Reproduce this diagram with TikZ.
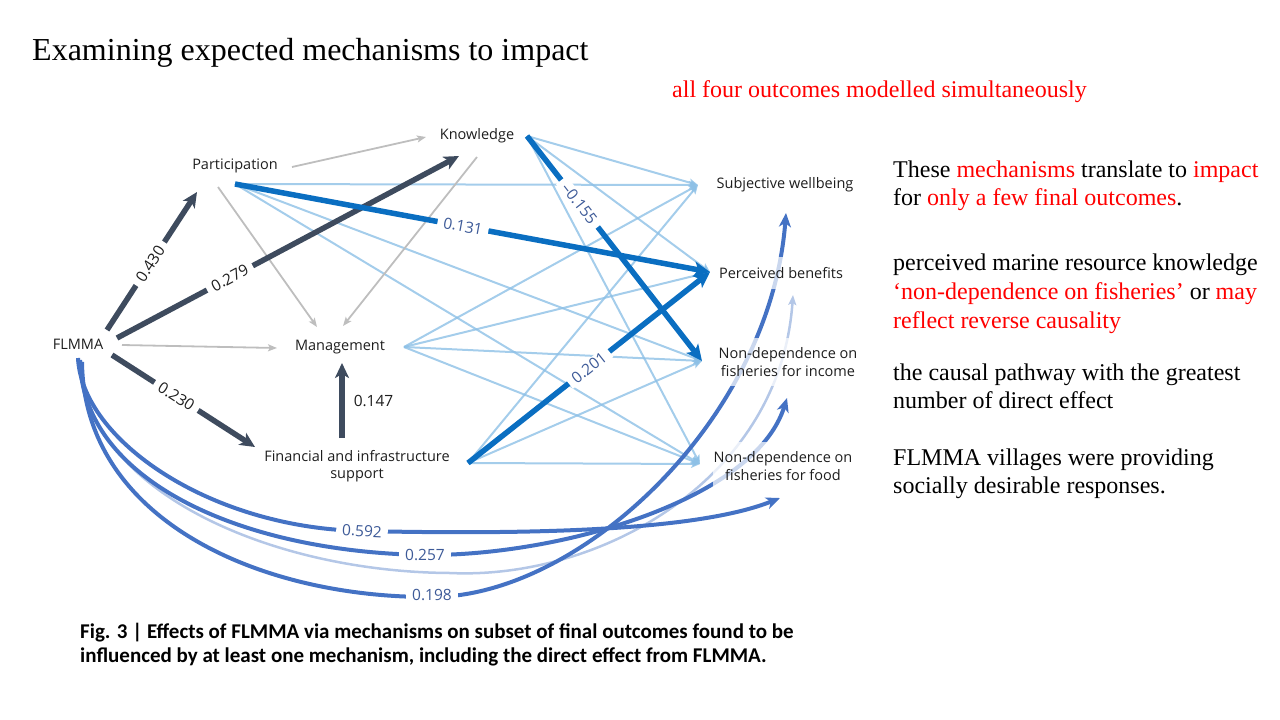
\documentclass[tikz,border=0pt]{standalone}
\usepackage{fontspec}
\setmainfont{Liberation Serif}
\newfontfamily\dfont{Open Sans}
\newfontfamily\capfont{Carlito}
\usetikzlibrary{arrows.meta,calc}
\pgfdeclarelayer{bg}
\pgfsetlayers{bg,main}
\definecolor{slate}{HTML}{3E4B5E}
\definecolor{greyln}{HTML}{BEBEBE}
\definecolor{lblue}{HTML}{8DC0E6}
\definecolor{tblue}{HTML}{0A6EC1}
\definecolor{cblue}{HTML}{4472C4}
\definecolor{fblue}{HTML}{B4C7E7}
\definecolor{lbltxt}{HTML}{3D5A98}
\definecolor{txt}{HTML}{1E1E1E}
\definecolor{redtxt}{HTML}{FF0000}
\newcommand\redtx[1]{\textcolor{redtxt}{#1}}
\begin{document}
\begin{tikzpicture}[x=1pt,y=-1pt,
 lab/.style={font=\dfont\fontsize{14.5}{17.5}\selectfont, text=txt, inner sep=1pt, align=center},
 outc/.style={lab, fill=white, fill opacity=0.72, text opacity=1, inner xsep=1pt, inner ysep=10pt},
 dk/.style={draw=slate, line width=5.5pt, -{Stealth[length=15pt,width=14pt,inset=4pt]}},
 gr/.style={draw=greyln, line width=1.8pt, -{Stealth[length=9pt,width=7pt,inset=2pt]}},
 lb/.style={draw=lblue, draw opacity=0.8, line width=2pt, -{Stealth[length=9pt,width=8pt,inset=2pt]}},
 tb/.style={draw=tblue, line width=5.5pt, -{Stealth[length=16pt,width=15pt,inset=4pt]}},
 cv/.style={draw=cblue, line width=4pt, -{Stealth[length=14pt,width=12pt,inset=4pt]}},
 cvf/.style={draw=fblue, line width=2.5pt, -{Stealth[length=10pt,width=8pt,inset=2pt]}},
 num/.style={font=\dfont\fontsize{15.5}{18}\selectfont, fill=white, fill opacity=1, draw=none, inner xsep=6pt, inner ysep=1pt, text=txt},
 bnum/.style={num, text=lbltxt},
 rt/.style={anchor=base west, inner sep=0pt, font=\fontsize{24}{28}\selectfont},
 captxt/.style={anchor=base west, inner sep=0pt, font=\capfont\bfseries\fontsize{21}{24}\selectfont},
]
\useasboundingbox (0,0) rectangle (1280,720);

% ---------- texts ----------
\node[anchor=base west, inner sep=0pt, font=\fontsize{32}{36}\selectfont] (title) at (32,60) {Examining expected mechanisms to impact};
\node[anchor=base west, inner sep=0pt, font=\fontsize{24}{28}\selectfont, text=redtxt] (sub) at (672,97) {all four outcomes modelled simultaneously};

\node[rt] (r1) at (893,177) {These \redtx{mechanisms} translate to \redtx{impact}};
\node[rt] (r2) at (893,205) {for \redtx{only a few final outcomes}.};
\node[rt] (r3) at (893,270) {perceived marine resource knowledge};
\node[rt] (r4) at (893,299) {\redtx{‘non-dependence on fisheries’} or \redtx{may}};
\node[rt] (r5) at (893,328) {\redtx{reflect reverse causality}};
\node[rt] (r6) at (893,380) {the causal pathway with the greatest};
\node[rt] (r7) at (893,408) {number of direct effect};
\node[rt] (r8) at (893,465) {FLMMA villages were providing};
\node[rt] (r9) at (893,493) {socially desirable responses.};

\node[captxt] (c1) at (80,638) {Fig. 3 | Effects of FLMMA via mechanisms on subset of final outcomes found to be};
\node[captxt] (c2) at (80,662) {influenced by at least one mechanism, including the direct effect from FLMMA.};

% ---------- diagram nodes ----------
\node[lab] (flm) at (78,344) {FLMMA};
\node[lab] (part) at (235,166) {Participation};
\node[lab] (know) at (477,136) {Knowledge};
\node[lab] (mgmt) at (340,347) {Management};
\node[lab] (fin) at (357,466) {Financial and infrastructure\\support};
\node[outc] (sw) at (785,185) {Subjective wellbeing};
\node[outc] (pb) at (781,273) {Perceived benefits};
\node[outc] (inc) at (788,362) {Non-dependence on\\fisheries for income};
\node[outc] (food) at (783,466) {Non-dependence on\\fisheries for food};

% ---------- ports ----------
\coordinate (flm-p) at ($(flm)+(29,-14)$);
\coordinate (flm-k) at ($(flm)+(39,-6)$);
\coordinate (flm-m) at ($(flm)+(44,1)$);
\coordinate (flm-f) at ($(flm)+(34,11)$);
\coordinate (flm-c1) at ($(flm)+(0,14)$);
\coordinate (flm-c2) at ($(flm)+(2,16)$);
\coordinate (flm-c3) at ($(flm)+(3,17)$);
\coordinate (flm-c4) at ($(flm)+(4,18)$);

\coordinate (part-in) at ($(part)+(-38,26)$);
\coordinate (part-k) at ($(part)+(57,1)$);
\coordinate (part-m) at ($(part)+(-17,21)$);
\coordinate (part-o) at ($(part)+(0,18)$);

\coordinate (know-in) at ($(know)+(-51,1)$);
\coordinate (know-din) at ($(know)+(-18,20)$);
\coordinate (know-m) at ($(know)+(0,21)$);
\coordinate (know-o) at ($(know)+(50,0)$);

\coordinate (mgmt-p) at ($(mgmt)+(-23,-20)$);
\coordinate (mgmt-k) at ($(mgmt)+(3,-21)$);
\coordinate (mgmt-f) at ($(mgmt)+(-63,1)$);
\coordinate (mgmt-b) at ($(mgmt)+(2,16)$);
\coordinate (mgmt-o) at ($(mgmt)+(64,0)$);

\coordinate (fin-in) at ($(fin)+(-102,-19)$);
\coordinate (fin-up) at ($(fin)+(-15,-28)$);
\coordinate (fin-o) at ($(fin)+(111,-3)$);

\coordinate (sw-in) at ($(sw)+(-87,0)$);
\coordinate (sw-c) at ($(sw)+(1,28)$);
\coordinate (pb-in) at ($(pb)+(-71,-1)$);
\coordinate (pb-c) at ($(pb)+(12,22)$);
\coordinate (inc-in) at ($(inc)+(-86,-1)$);
\coordinate (inc-c) at ($(inc)+(-1,36)$);
\coordinate (food-in) at ($(food)+(-83,-2)$);
\coordinate (food-c) at ($(food)+(-3,32)$);

\begin{pgfonlayer}{bg}
% light blue mechanism -> outcome edges
\draw[lb] (part-o) -- (sw-in);
\draw[lb] (part-o) -- (inc-in);
\draw[lb] (part-o) -- (food-in);
\draw[lb] (know-o) -- (sw-in);
\draw[lb] (know-o) -- (pb-in);
\draw[lb] (know-o) -- (food-in);
\draw[lb] (mgmt-o) -- (sw-in);
\draw[lb] (mgmt-o) -- (pb-in);
\draw[lb] (mgmt-o) -- (inc-in);
\draw[lb] (mgmt-o) -- (food-in);
\draw[lb] (fin-o) -- (sw-in);
\draw[lb] (fin-o) -- (inc-in);
\draw[lb] (fin-o) -- (food-in);

% grey non-significant edges
\draw[gr] (part-k) -- (know-in);
\draw[gr] (part-m) -- (mgmt-p);
\draw[gr] (know-m) -- (mgmt-k);
\draw[gr] (flm-m) -- (mgmt-f);

% dark significant edges
\draw[dk] (flm-p) -- node[num, pos=0.48, sloped] {0.430} (part-in);
\draw[dk] (flm-k) -- node[num, pos=0.33, sloped] {0.279} (know-din);
\draw[dk] (flm-f) -- node[num, pos=0.45, sloped] {0.230} (fin-in);
\draw[dk] (fin-up) -- node[num, pos=0.5, right=3pt, fill=none] {0.147} (mgmt-b);

% thick blue significant edges
\draw[tb] (part-o) -- node[bnum, pos=0.48, sloped] {0.131} (pb-in);
\draw[tb] (know-o) -- node[bnum, pos=0.30, sloped] {–0.155} (inc-in);
\draw[tb] (fin-o) -- node[bnum, pos=0.50, sloped] {0.201} (pb-in);

% direct effects of FLMMA (curves)
\draw[cvf] (flm-c3) .. controls (84,490) and (270,572) .. (450,573)
   .. controls (600,580) and (780,480) .. (pb-c);
\draw[cv] (flm-c1) .. controls (82,440) and (210,528) .. (362,531)
   node[bnum, rotate=-3] {0.592}
   .. controls (540,535) and (700,530) .. (food-c);
\draw[cv] (flm-c2) .. controls (82,480) and (240,552) .. (425,555)
   node[bnum] {0.257}
   .. controls (560,556) and (755,500) .. (inc-c);
\draw[cv] (flm-c4) .. controls (84,520) and (260,598) .. (432,597)
   node[bnum, yshift=2pt] {0.198}
   .. controls (580,597) and (770,420) .. (sw-c);
\end{pgfonlayer}
\end{tikzpicture}
\end{document}
